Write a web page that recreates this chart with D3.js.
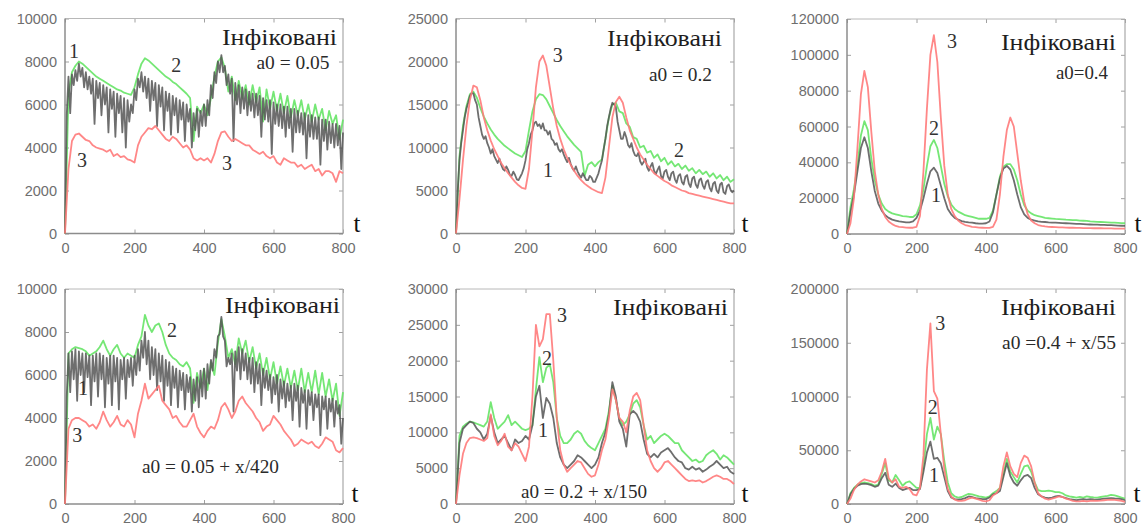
<!DOCTYPE html>
<html><head><meta charset="utf-8">
<script src="https://cdn.jsdelivr.net/npm/d3@7"></script>
<style>body{margin:0;background:#fff} svg{display:block}</style>
</head><body><svg id="c" width="1147" height="528"></svg>
<script>
// ---------- DATA ----------
const tFine = d3.range(0, 801, 5);    // time grid, step 5
const tCoarse = d3.range(0, 801, 10); // time grid, step 10
const xTickValues = [0, 200, 400, 600, 800];
const titleText = "Інфіковані";
const paramTexts = ["a0 = 0.05", "a0 = 0.2", "a0=0.4", "a0 = 0.05 + x/420", "a0 = 0.2 + x/150", "a0 =0.4 + x/55"];
const yTicks1 = [0, 2000, 4000, 6000, 8000, 10000];
const yTicks2 = [0, 5000, 10000, 15000, 20000, 25000];
const yTicks3 = [0, 20000, 40000, 60000, 80000, 100000, 120000];
const yTicks4 = [0, 2000, 4000, 6000, 8000, 10000];
const yTicks5 = [0, 5000, 10000, 15000, 20000, 25000, 30000];
const yTicks6 = [0, 50000, 100000, 150000, 200000];

// Panel 1: a0 = 0.05
const p1Black = [0,5500,7300,5600,7400,6900,7600,7100,7900,7300,
 7700,6800,7500,6700,7300,6500,7200,5100,7100,6300,
 7000,5500,6900,6000,6800,4700,6700,5800,6600,4500,
 6500,5600,6400,4700,6300,4000,6200,5200,6000,5600,
 6700,6200,7200,6800,7500,6600,7300,6300,7200,5700,
 7100,6200,7000,5000,6900,5900,6800,4800,6600,5700,
 6500,4600,6400,5500,6300,4700,6200,5300,6100,4300,
 6000,5200,5800,4000,5600,4800,5800,4500,5700,5000,
 6000,5000,6200,5500,6900,6300,7500,7000,8000,7500,
 8300,7500,7800,6900,7400,6500,7200,4300,7000,6000,
 6900,5600,6800,5800,6700,5500,6600,5700,6500,5400,
 6500,5500,6400,4500,6300,5300,6200,5200,6200,3700,
 6100,5100,6000,5000,6000,4900,5900,4500,5900,4900,
 5800,3800,5800,4700,5700,4700,5600,4600,5600,3500,
 5500,4500,5500,4400,5400,4400,5400,3200,5300,4300,
 5300,3900,5200,4200,5100,4000,5100,4100,5000,3000,
 4700];
const p1Green = [0,6500,7500,7800,8000,7900,7750,7600,7450,7300,
 7200,7100,7000,6900,6800,6700,6650,6550,6500,6450,
 6800,7400,7900,8150,8050,7900,7750,7600,7450,7300,
 7200,7050,6950,6800,6650,6500,6300,4300,5900,5600,
 6000,5500,6300,7300,8000,8200,7700,6600,7300,6200,
 7100,6300,6900,6000,6900,6100,6800,5200,6700,5800,
 6600,5700,6500,5600,6400,5400,6200,5500,6200,5300,
 6000,5200,6000,5300,5800,4800,5700,5100,5500,4400,
 5300];
const p1Red = [0,3000,4300,4600,4650,4500,4350,4300,4100,4000,
 3950,3900,3800,3900,3600,3700,3550,3600,3450,3400,
 3300,4100,4500,4700,4900,4850,5000,4800,4600,4400,
 4300,4500,4400,4200,4000,4100,3900,3500,3400,3500,
 3400,3500,3300,3700,4300,4700,4750,4500,4300,4400,
 4300,4200,4100,4100,3900,3800,3700,3800,3600,3500,
 3600,3300,3200,3500,3400,3300,3300,3100,3200,3000,
 3100,3200,2900,3000,2700,2900,2900,2800,2400,2900,
 2800];

// Panel 2: a0 = 0.2
const p2Black = [0,5000,8500,10500,12000,13500,14500,15200,16000,16300,
 16300,15500,15000,13500,12500,11500,11000,11300,10500,10000,
 9300,9800,9000,8600,8200,8700,8000,7500,7300,7800,
 7400,6800,6700,7200,6800,6300,6200,6600,7000,7600,
 8500,9800,10500,11500,12000,12800,13000,12500,12700,12200,
 12800,12000,12000,11500,11900,11000,10800,10300,10500,9800,
 9500,9800,9200,8700,8300,8800,8100,7600,7300,7800,
 7200,6800,6500,7000,6600,6200,6200,6700,6500,6000,
 6000,6500,7000,7800,8500,9800,11000,12500,13500,14500,
 15200,15000,14700,13000,12000,11000,11000,11800,11200,10300,
 10000,10500,9600,9100,9000,9400,8400,8000,8300,8700,
 7700,7300,7800,8200,7300,6900,7400,7800,6700,6400,
 7200,7400,6600,6200,7000,7200,6300,5900,6700,6900,
 6000,5700,6600,6800,5800,5400,6400,6600,5700,5300,
 6200,6400,5600,5200,6000,6200,5300,4900,5800,6000,
 5000,4700,5700,5900,4800,4600,5500,5700,5100,4800,
 5000];
const p2Green = [0,9000,12500,14800,16200,16500,15800,14600,13600,12800,
 12100,11500,11000,10600,10200,9900,9600,9300,9100,8900,
 9600,12000,14200,15600,16200,16100,15600,14800,14000,13200,
 12500,11900,11300,10800,10300,9900,9500,6700,8000,8300,
 7800,8300,8600,11000,13500,15000,15200,14200,14000,12800,
 12400,11200,11000,10000,10200,9400,9600,8800,9200,8400,
 8800,8000,8400,7800,8100,7500,7900,7300,7600,7000,
 7400,6900,7200,6600,7000,6400,6800,6200,6600,6000,
 6300];
const p2Red = [0,4000,8500,12500,15500,17200,17000,15500,13500,12000,
 10800,9800,9000,8200,7600,7000,6500,6000,5600,5300,
 5200,7500,12000,17000,20000,20700,19500,17000,14500,12500,
 11000,9800,8800,8000,7300,6700,6200,5800,5500,5200,
 5000,4800,4700,6500,10000,13500,15300,15900,15200,13500,
 12000,11000,10000,9200,8600,8000,7500,7000,6700,6400,
 6100,5900,5600,5400,5200,5000,4900,4700,4600,4500,
 4400,4300,4200,4100,4000,3900,3800,3700,3600,3500,
 3500];

// Panel 3: a0 = 0.4
const p3Black = [0,12000,22000,35000,48000,54000,48000,35000,24000,17000,
 13000,10500,9000,8000,7500,7000,6800,6500,6500,7000,
 9000,13000,20000,28000,35000,37000,34000,27000,20000,14000,
 11000,9000,8000,7200,6800,6500,6300,6000,5800,5800,
 6000,7000,12000,22000,31000,36500,38000,36000,30000,22000,
 15000,11000,9000,8000,7500,7000,6800,6700,6500,6400,
 6300,6200,6100,6000,5900,5800,5700,5600,5500,5400,
 5300,5200,5200,5100,5100,5000,4900,4800,4700,4600,
 4500];
const p3Green = [0,15000,25000,38000,55000,63000,58000,42000,30000,22000,
 17000,14000,12500,11500,11000,10500,10000,9800,9500,9500,
 11000,16000,25000,38000,49000,52500,48000,38000,28000,21000,
 16500,14000,12500,11500,10500,10000,9500,9000,8500,8500,
 8500,9000,13000,22000,32000,37500,39000,39000,36000,30000,
 22000,16000,13000,11500,10500,10000,9500,9000,8800,8600,
 8400,8300,8200,8000,7900,7800,7700,7500,7400,7300,
 7000,6900,6800,6700,6600,6500,6400,6300,6200,6100,
 6000];
const p3Red = [0,6000,20000,48000,78000,91000,82000,57000,35000,22000,
 14000,9500,7000,5500,4500,4000,3800,3600,3500,3500,
 4000,10000,35000,70000,100000,111000,96000,65000,38000,22000,
 14000,10000,7500,6000,5000,4500,4000,3800,3600,3500,
 3400,3400,4000,8000,22000,43000,58000,65000,60000,45000,
 30000,18000,11000,7500,6000,5000,4500,4200,4000,3900,
 3800,3700,3700,3600,3500,3500,3400,3400,3300,3300,
 3300,3200,3200,3200,3100,3100,3100,3000,3000,3000,
 3000];

// Panel 4: a0 = 0.05 + x/420
const p4Black = [0,5000,7000,5200,7100,5800,7200,4800,7100,6000,
 7000,5200,7000,5900,6900,4600,6900,5700,7000,5000,
 7000,5800,6900,4500,6800,5600,6900,4600,6900,5700,
 6800,4400,6700,5800,6800,4900,6700,5900,6800,5500,
 6900,6000,7200,6200,7600,6800,8000,6500,7600,5800,
 7300,6000,7200,5300,7000,5700,6900,4800,6700,5500,
 6600,4600,6400,5400,6300,4500,6200,5300,6100,4400,
 6000,5200,5900,4300,5800,4800,5900,4500,6200,5000,
 6300,4900,6500,5600,6700,6200,7200,6800,7800,7900,
 8700,7800,7600,6400,6800,6500,7000,4300,7100,6200,
 7300,5800,7200,6200,7000,5800,6800,5600,6800,5200,
 6600,5600,6500,4600,6300,5400,6200,5300,6000,4700,
 5900,5100,6000,4300,5800,4900,5700,4500,5600,4800,
 5500,3900,5600,4800,5500,3600,5400,4700,5300,3500,
 5300,4600,5200,3900,5100,4500,5100,3200,5000,4400,
 5000,3500,4900,4300,4900,3600,4800,4200,4600,2800,
 4000];
const p4Green = [0,7000,7200,7300,7250,7200,7100,6900,7000,7100,
 7300,7600,7200,6900,7200,7400,7000,6800,7000,6900,
 6800,7400,7800,8800,8300,8000,8300,8400,8000,7400,
 7000,6800,6700,6500,6400,6600,6300,4700,6100,5400,
 6300,5300,6600,6000,7500,8600,7800,6800,7200,6500,
 7700,7000,7600,6600,7300,6300,7000,6000,6800,5800,
 6600,5600,6400,5500,6300,5400,6200,5300,6300,5200,
 6100,5200,6200,5100,6100,5000,5800,4800,5600,4100,
 5200];
const p4Red = [0,3500,3900,4000,4000,3900,3800,3600,3700,3500,
 3800,4300,3900,3600,3800,4100,3700,3600,3900,3700,
 3100,4200,4800,5600,4900,5100,5300,5500,4800,4600,
 4400,4000,4100,3800,3600,3600,3900,4200,3600,3300,
 3100,3400,3600,3500,3900,4500,4700,4400,4000,4300,
 4800,5000,4700,4500,4300,4000,3800,3400,3600,3700,
 4100,3900,3700,3400,3200,3000,2700,2800,3000,2900,
 2800,2900,2700,2600,2800,3100,3000,2900,2500,2400,
 2600];

// Panel 5: a0 = 0.2 + x/150
const p5Black = [0,8500,10500,11000,11500,11300,10500,10000,9000,9800,
 12300,10000,8500,9000,9500,8500,7500,9000,8500,8800,
 9500,9000,11000,15000,16500,12000,14800,14000,12000,8500,
 6500,5500,5000,5500,6000,6800,6500,6000,5500,5000,
 5500,6500,8500,10000,12500,17000,15000,11500,10500,8000,
 12500,13000,12500,11500,9000,7000,6500,7000,6500,7200,
 7500,7800,7200,6500,6000,5800,5000,4800,5200,4800,
 5000,4500,4800,5200,5500,6000,5500,5000,5200,4500,
 4200];
const p5Green = [0,9500,10800,11200,11500,11400,11200,11000,10800,11500,
 14200,12000,10500,11000,11500,12400,11000,11500,11000,10500,
 10300,10500,11000,16000,20500,17000,19000,19500,17000,12000,
 9500,8500,8500,9000,9800,10200,9800,8800,8200,7800,
 7500,8500,9500,10500,13000,16500,14500,12000,11000,11500,
 12500,14000,14500,13500,11000,9000,9500,8500,9000,9500,
 9800,9500,9000,8500,8500,7500,7000,6500,6000,6200,
 5800,6000,6800,7200,7500,7000,6200,6800,6500,6000,
 5500];
const p5Red = [0,4000,7000,8500,9200,9300,9200,9000,8800,9200,
 12500,9500,8200,8800,9800,8000,7500,8500,8000,7000,
 6000,8000,15000,25000,22000,23000,26500,26500,20000,12000,
 7500,5500,4500,5000,5500,6000,5800,5000,4200,3800,
 4000,5500,7500,9000,12000,16000,14500,12000,11500,10000,
 13000,15000,15500,14500,11000,7500,6000,5000,4500,5000,
 5800,6000,5500,5000,4500,4000,3500,3200,3300,3200,
 3300,3000,3200,3500,3800,4000,3800,3500,3500,3200,
 2800];

// Panel 6: a0 = 0.4 + x/55
const p6Black = [0,9000,14000,17000,18500,19000,18500,17500,16000,17000,
 24000,29000,18000,16000,19000,15000,13000,14000,15000,13000,
 13000,14000,30000,48000,58000,42000,43000,38000,25000,12000,
 6000,4500,4000,4500,5500,7000,6500,5500,5000,4500,
 4500,6000,9000,10000,12000,25000,38000,26000,20000,17000,
 22000,26000,27000,24000,15000,9000,7000,6000,5500,6000,
 7000,7500,6500,5500,4500,4000,3500,4000,4500,4000,
 4500,4200,4000,4500,5000,5300,5500,5200,5000,4500,
 3500];
const p6Green = [0,10000,15000,18000,19500,20000,19500,18500,17000,18000,
 28000,38000,22000,20000,27000,22000,17000,20000,21000,18000,
 15000,15000,35000,65000,80000,60000,72000,65000,40000,20000,
 10000,7000,6000,6500,8000,9500,9000,8000,7000,6500,
 6000,7000,10000,12000,15000,28000,42000,30000,25000,20000,
 28000,35000,36000,30000,20000,13000,12000,12000,12500,12000,
 11000,11000,10000,8000,7000,6500,6000,6500,6000,7000,
 6500,6200,6000,6500,7000,7500,8500,8000,7000,6000,
 5000];
const p6Red = [0,5000,13000,18000,21000,23000,22000,21000,20000,22000,
 30000,42000,24000,20000,23000,16000,15000,16000,14000,9000,
 8000,15000,45000,125000,168000,105000,98000,65000,32000,14000,
 7000,4000,3000,3000,3500,5000,6000,5000,4000,3000,
 2500,3500,8000,10000,15000,35000,48000,35000,28000,25000,
 38000,45000,43000,35000,20000,10000,7000,5000,4000,5000,
 6000,7000,6500,5000,4000,3000,2500,2500,3000,2500,
 3000,3200,3000,3200,3500,3800,4000,3800,3500,3000,
 2000];

// Curve-number annotations: [name, t, value]
const p1Notes = [["1", 26, 8500], ["2", 320, 7850], ["3", 49, 3400], ["3", 466, 3300]];
const p2Notes = [["3", 293, 20750], ["1", 265, 7400], ["2", 642, 9700]];
const p3Notes = [["3", 302, 108000], ["2", 250, 58900], ["1", 256, 21500]];
const p4Notes = [["2", 308, 8100], ["1", 52, 5400], ["3", 35, 3200]];
const p5Notes = [["3", 305, 26400], ["2", 262, 20400], ["1", 250, 10300]];
const p6Notes = [["3", 268, 168400], ["2", 247, 90200], ["1", 250, 27000]];

// ---------- LAYOUT / STYLE ----------
const COLORS = { black: "#555555", green: "#66e466", red: "#ff7a7a" };
const panels = [
  { box: [65, 343, 18.5, 233.5], ticks: yTicks1, data: [[tCoarse, p1Green, "green"], [tFine, p1Black, "black"], [tCoarse, p1Red, "red"]], notes: p1Notes,
    title: [337, 37], param: [293, 63, 73], t: [357, 223] },
  { box: [456, 734, 18.5, 233.5], ticks: yTicks2, data: [[tCoarse, p2Green, "green"], [tFine, p2Black, "black"], [tCoarse, p2Red, "red"]], notes: p2Notes,
    title: [722, 38], param: [680.5, 75, 63], t: [745, 223] },
  { box: [847, 1125, 19, 234], ticks: yTicks3, data: [[tCoarse, p3Green, "green"], [tCoarse, p3Black, "black"], [tCoarse, p3Red, "red"]], notes: p3Notes,
    title: [1116, 42], param: [1082, 73, 52], t: [1138, 223] },
  { box: [65, 343, 289, 504], ticks: yTicks4, data: [[tCoarse, p4Green, "green"], [tFine, p4Black, "black"], [tCoarse, p4Red, "red"]], notes: p4Notes,
    title: [340, 305], param: [210.5, 467, 137], t: [355, 493] },
  { box: [456, 734, 289, 504], ticks: yTicks5, data: [[tCoarse, p5Green, "green"], [tCoarse, p5Black, "black"], [tCoarse, p5Red, "red"]], notes: p5Notes,
    title: [728, 307], param: [584, 492, 126], t: [745, 493] },
  { box: [847, 1125, 289, 504], ticks: yTicks6, data: [[tCoarse, p6Green, "green"], [tCoarse, p6Black, "black"], [tCoarse, p6Red, "red"]], notes: p6Notes,
    title: [1116, 307], param: [1059, 343, 114], t: [1137, 493] }
];

const svg = d3.select("#c");
const sans = "'Liberation Sans', Arial, sans-serif";
const serif = "'Liberation Serif', 'Times New Roman', serif";

panels.forEach((p, i) => {
  const [x0, x1, yTop, yBot] = p.box;
  const x = d3.scaleLinear().domain([0, 800]).range([x0, x1]);
  const y = d3.scaleLinear().domain([0, d3.max(p.ticks)]).range([yBot, yTop]);
  const g = svg.append("g");

  const gr = g.append("g").attr("transform", `translate(${x1},0)`)
    .call(d3.axisRight(y).tickValues(p.ticks).tickSize(-4).tickFormat(""));
  const gt = g.append("g").attr("transform", `translate(0,${yTop})`)
    .call(d3.axisTop(x).tickValues(xTickValues).tickSize(-4).tickFormat(""));
  const gl = g.append("g").attr("transform", `translate(${x0},0)`)
    .call(d3.axisLeft(y).tickValues(p.ticks).tickSize(-4).tickPadding(8).tickFormat(d3.format("d")));
  const gb = g.append("g").attr("transform", `translate(0,${yBot})`)
    .call(d3.axisBottom(x).tickValues(xTickValues).tickSize(-4).tickPadding(9).tickFormat(d3.format("d")));
  [gr, gt, gl, gb].forEach(a => {
    a.select(".domain").remove();
    a.selectAll(".tick line").attr("stroke", "#a0a0a0").attr("stroke-width", 1);
    a.selectAll("text").attr("fill", "#6e6e6e").style("font-family", sans).style("font-size", "14.5px");
  });
  gb.selectAll("text").attr("dy", "0.71em");

  g.append("line").attr("x1", x0).attr("x2", x1).attr("y1", yTop).attr("y2", yTop).attr("stroke", "#b8b8b8").attr("stroke-width", 1);
  g.append("line").attr("x1", x1).attr("x2", x1).attr("y1", yTop).attr("y2", yBot).attr("stroke", "#a8a8a8").attr("stroke-width", 1.2);
  g.append("line").attr("x1", x0).attr("x2", x0).attr("y1", yTop).attr("y2", yBot).attr("stroke", "#8c8c8c").attr("stroke-width", 1.5);
  g.append("line").attr("x1", x0).attr("x2", x1).attr("y1", yBot).attr("y2", yBot).attr("stroke", "#8c8c8c").attr("stroke-width", 1.5);

  p.data.forEach(([ts, vs, col]) => {
    const line = d3.line().x((d, k) => x(ts[k])).y(d => y(d));
    g.append("path").datum(vs).attr("d", line).attr("fill", "none")
      .attr("stroke", COLORS[col]).attr("stroke-width", 1.8)
      .attr("stroke-opacity", col === "black" ? 0.85 : 0.9).attr("stroke-linejoin", "round");
  });

  p.notes.forEach(([name, t, v]) => {
    g.append("text").attr("x", x(t)).attr("y", y(v)).attr("text-anchor", "middle").attr("dominant-baseline", "central")
      .style("font-family", serif).style("font-size", "20px").attr("fill", "#333").text(name);
  });
  g.append("text").attr("x", p.title[0]).attr("y", p.title[1]).attr("text-anchor", "end").attr("dominant-baseline", "central")
    .attr("textLength", 115).attr("lengthAdjust", "spacingAndGlyphs")
    .style("font-family", serif).style("font-size", "24px").attr("fill", "#1e1e1e").text(titleText);
  g.append("text").attr("x", p.param[0]).attr("y", p.param[1]).attr("text-anchor", "middle").attr("dominant-baseline", "central")
    .attr("textLength", p.param[2]).attr("lengthAdjust", "spacingAndGlyphs")
    .style("font-family", serif).style("font-size", "18px").attr("fill", "#2a2a2a").text(paramTexts[i]);
  g.append("text").attr("x", p.t[0]).attr("y", p.t[1]).attr("text-anchor", "middle").attr("dominant-baseline", "central")
    .style("font-family", serif).style("font-size", "25px").attr("fill", "#111").text("t");
});
</script></body></html>
